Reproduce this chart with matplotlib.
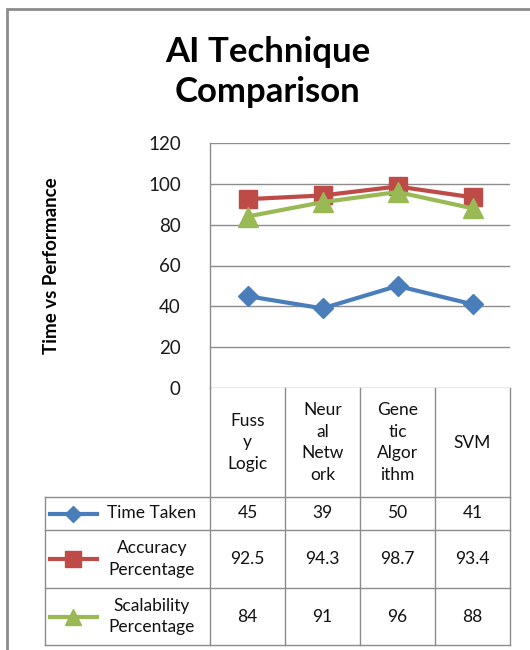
import matplotlib
matplotlib.use("Agg")
import matplotlib.pyplot as plt
from matplotlib.transforms import blended_transform_factory
from matplotlib.lines import Line2D
from matplotlib.patches import Rectangle

plt.rcParams['font.family'] = ['Lato', 'DejaVu Sans']

categories = ["Fuss\ny\nLogic", "Neur\nal\nNetw\nork", "Gene\ntic\nAlgor\nithm", "SVM"]
series_names = ["Time Taken", "Accuracy\nPercentage", "Scalability\nPercentage"]
time_taken = [45, 39, 50, 41]
accuracy = [92.5, 94.3, 98.7, 93.4]
scalability = [84, 91, 96, 88]
value_labels = [["45", "39", "50", "41"],
                ["92.5", "94.3", "98.7", "93.4"],
                ["84", "91", "96", "88"]]
y_ticks = [0, 20, 40, 60, 80, 100, 120]

colors = ["#4A7EBB", "#BE4B48", "#98B954"]
markers = ["D", "s", "^"]
msizes = [10, 13, 14]
series = [time_taken, accuracy, scalability]

W, H = 530, 650
fig = plt.figure(figsize=(W / 100, H / 100), dpi=100)

# plot area in pixels
L, R, T, B = 210, 510, 143, 388
ax = fig.add_axes([L / W, 1 - B / H, (R - L) / W, (B - T) / H])

x = list(range(len(categories)))
for vals, c, m, ms in zip(series, colors, markers, msizes):
    ax.plot(x, vals, color=c, lw=3.0, marker=m, ms=ms, mec=c, mfc=c,
            solid_joinstyle='round', zorder=3)

ax.set_xlim(-0.5, len(categories) - 0.5)
ax.set_ylim(0, 120)
ax.set_yticks(y_ticks)
ax.set_yticklabels([str(v) for v in y_ticks], fontsize=13.5, color="#1a1a1a")
ax.tick_params(axis='y', length=0, pad=21)
ax.set_xticks([])
grid_c = "#8C8C8C"
for v in y_ticks:
    ax.axhline(v, color=grid_c, lw=1.0, zorder=1)
for s in ["top", "right", "bottom"]:
    ax.spines[s].set_visible(False)
ax.spines["left"].set_color(grid_c)
ax.spines["left"].set_linewidth(1.0)

ax.set_ylabel("Time vs Performance", fontsize=13.5, fontweight="bold",
              labelpad=0, color="black")
ax.yaxis.set_label_coords((60 - L) / (R - L), ((B - 266) / (B - T)))

fig.text(0.505, 1 - 72 / H, "AI Technique\nComparison", ha="center",
         va="center", fontsize=25, fontweight="bold", linespacing=1.32)

# table
tr = blended_transform_factory(ax.transData, ax.transAxes)
def ya(p):
    return (B - p) / (B - T)

px_per_unit = (R - L) / len(categories)
x_leg = -0.5 - (L - 45) / px_per_unit
x_key0 = -0.5 - (L - 50) / px_per_unit
x_key1 = -0.5 - (L - 97) / px_per_unit
x_txt = -0.5 - (L - 152) / px_per_unit

row_b = [497, 530, 588, 645]
lk = dict(color=grid_c, lw=1.0, transform=tr, clip_on=False)
for i in range(len(categories) + 1):
    ax.add_line(Line2D([i - 0.5, i - 0.5], [ya(B), ya(row_b[-1])], **lk))
ax.add_line(Line2D([x_leg, x_leg], [ya(row_b[0]), ya(row_b[-1])], **lk))
for p in row_b:
    ax.add_line(Line2D([x_leg, len(categories) - 0.5], [ya(p), ya(p)], **lk))

fs_tab = 12.5
for i, cat in enumerate(categories):
    ax.text(i, ya((B + row_b[0]) / 2), cat, transform=tr, ha="center",
            va="center", fontsize=fs_tab, linespacing=1.42, color="#111111")

row_tops = [row_b[0], row_b[1], row_b[2]]
row_bots = [row_b[1], row_b[2], row_b[3]]
for r in range(3):
    yc = ya((row_tops[r] + row_bots[r]) / 2)
    for i in range(len(categories)):
        ax.text(i, yc, value_labels[r][i], transform=tr, ha="center",
                va="center", fontsize=fs_tab, color="#111111")
    ax.add_line(Line2D([x_key0, x_key1], [yc, yc], color=colors[r], lw=3.0,
                       transform=tr, clip_on=False))
    ax.add_line(Line2D([(x_key0 + x_key1) / 2], [yc], color=colors[r],
                       marker=markers[r], ms=msizes[r] * 0.85, mec=colors[r],
                       mfc=colors[r], transform=tr, clip_on=False, lw=0))
    ax.text(x_txt, yc, series_names[r], transform=tr, ha="center",
            va="center", fontsize=fs_tab, linespacing=1.42, color="#111111")

# outer chart border
fig.patches.append(Rectangle((7 / W, -0.1), 1.2, 1 - 9 / H + 0.1,
                             transform=fig.transFigure, fill=False,
                             ec="#8C8C8C", lw=2.0))

fig.savefig("out.png", dpi=100, facecolor="white")
